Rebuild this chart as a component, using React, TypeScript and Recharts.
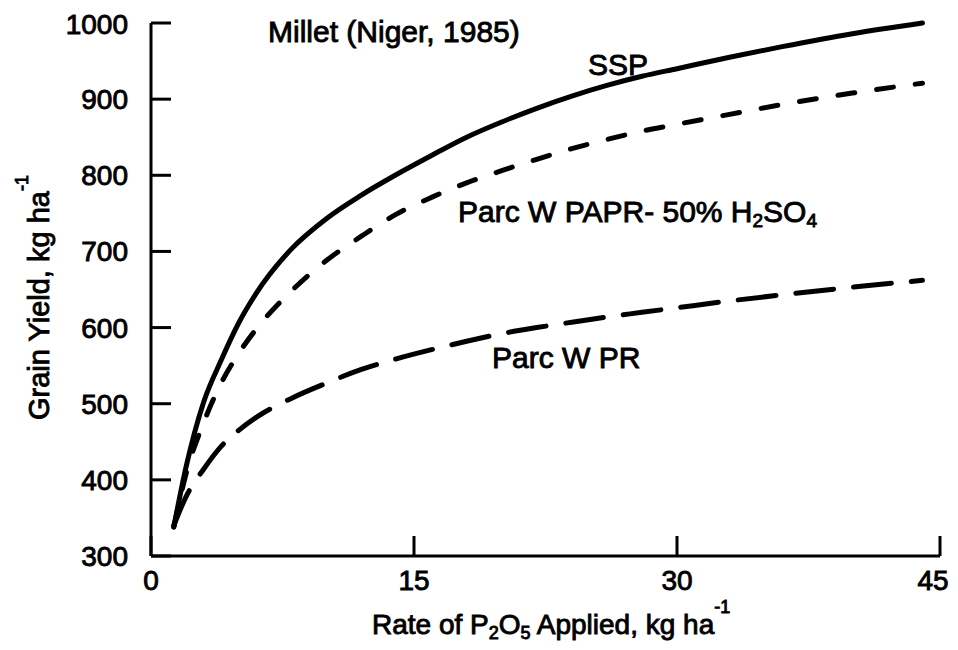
import React from 'react';
import { LineChart, Line, XAxis, YAxis } from 'recharts';

// P2O5 application rate (kg ha-1)
const rate = [1.3, 2, 3, 4, 5, 6, 8, 10, 12, 14, 16, 18, 20, 22, 24, 26, 28, 30, 33, 36, 40, 44];
// Millet grain yield response (kg ha-1) per phosphate source
const ssp = [338, 417, 502, 557, 606, 645, 703, 743, 774, 801, 826, 850, 870, 888, 904, 918, 930, 940, 955, 969, 986, 1000];
const papr = [338, 408, 475, 527, 566, 598, 648, 688, 720, 749, 771, 790, 806, 821, 835, 847, 858, 867, 880, 893, 908, 921];
const pr = [340, 378, 414, 444, 465, 482, 507, 527, 545, 559, 571, 582, 592, 600, 607, 614, 620, 626, 635, 643, 653, 662];

const xTicks = [0, 15, 30, 45];
const yTicks = [300, 400, 500, 600, 700, 800, 900, 1000];

const data = rate.map((r, i) => ({ rate: r, ssp: ssp[i], papr: papr[i], pr: pr[i] }));

const FONT = "'Liberation Sans', Arial, Helvetica, sans-serif";
const textStyle = {
  fill: '#000',
  fontFamily: FONT,
  stroke: '#000',
  strokeWidth: 0.9,
} as const;

// x tick labels; the last one is nudged left so it stays inside the frame
const XTick = (props: any) => {
  const { x, y, payload } = props;
  const shift = payload.value === xTicks[xTicks.length - 1] ? -7 : 0;
  return (
    <text x={x + shift} y={y} dy="0.71em" textAnchor="middle" fontSize={28} style={textStyle}>
      {payload.value}
    </text>
  );
};

export default function App() {
  return (
    <div style={{ width: 942, height: 634 }}>
      <LineChart
        width={942}
        height={634}
        data={data}
        margin={{ top: 15, right: 10, bottom: 0, left: 0 }}
      >
        <XAxis
          dataKey="rate"
          type="number"
          domain={[0, 45]}
          ticks={xTicks}
          height={86}
          axisLine={{ stroke: '#000', strokeWidth: 3 }}
          tickLine={{ stroke: '#000', strokeWidth: 3 }}
          tickSize={-20}
          tickMargin={34}
          tick={XTick}
        />
        <YAxis
          type="number"
          domain={[300, 1000]}
          ticks={yTicks}
          width={143}
          axisLine={{ stroke: '#000', strokeWidth: 3 }}
          tickLine={{ stroke: '#000', strokeWidth: 3 }}
          tickSize={-20}
          tickMargin={43}
          tick={{ ...textStyle, fontSize: 28 }}
        />
        <Line
          type="monotone"
          dataKey="pr"
          stroke="#000"
          strokeWidth={5}
          strokeDasharray="38 20"
          strokeLinecap="round"
          dot={false}
          isAnimationActive={false}
        />
        <Line
          type="monotone"
          dataKey="papr"
          stroke="#000"
          strokeWidth={5}
          strokeDasharray="17 22"
          strokeLinecap="round"
          dot={false}
          isAnimationActive={false}
        />
        <Line
          type="monotone"
          dataKey="ssp"
          stroke="#000"
          strokeWidth={5}
          strokeLinecap="round"
          dot={false}
          isAnimationActive={false}
        />

        <text x={260} y={34} fontSize={30} style={textStyle}>
          Millet (Niger, 1985)
        </text>
        <text x={580} y={67} fontSize={30} style={textStyle}>
          SSP
        </text>
        <text x={450} y={214} fontSize={30} style={textStyle}>
          Parc W PAPR- 50% H
          <tspan dy={5} fontSize={19}>2</tspan>
          <tspan dy={-5}>SO</tspan>
          <tspan dy={5} fontSize={19}>4</tspan>
        </text>
        <text x={484} y={360} fontSize={30} style={textStyle}>
          Parc W PR
        </text>

        <text x={364} y={626} fontSize={28} style={textStyle}>
          Rate of P
          <tspan dy={5} fontSize={18}>2</tspan>
          <tspan dy={-5}>O</tspan>
          <tspan dy={5} fontSize={18}>5</tspan>
          <tspan dy={-5}> Applied, kg ha</tspan>
          <tspan dy={-21} fontSize={18}>-1</tspan>
        </text>
        <text transform="translate(41, 412) rotate(-90)" x={0} y={0} fontSize={29} style={textStyle}>
          Grain Yield, kg ha
          <tspan dy={-21} fontSize={18}>-1</tspan>
        </text>
      </LineChart>
    </div>
  );
}
